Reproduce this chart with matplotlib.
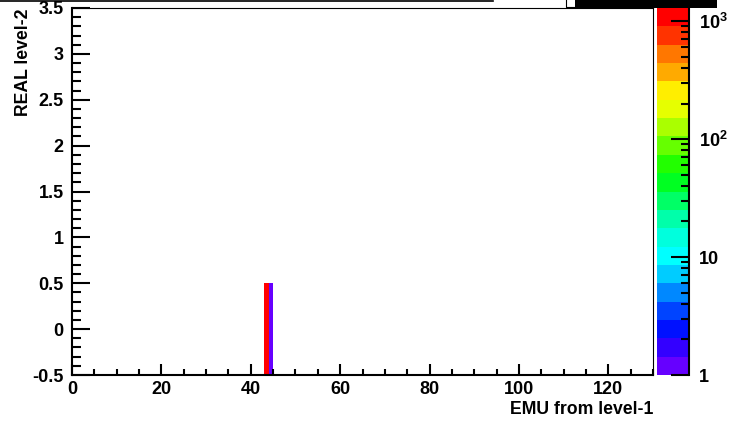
import numpy as np
import matplotlib
matplotlib.use("Agg")
import matplotlib.pyplot as plt
from matplotlib.colors import ListedColormap, LogNorm
from matplotlib.ticker import MultipleLocator, FuncFormatter, LogLocator, FixedLocator
from matplotlib.patches import Rectangle
from matplotlib.lines import Line2D

plt.rcParams['font.family'] = ['Liberation Sans', 'DejaVu Sans']
plt.rcParams['font.weight'] = 'bold'
plt.rcParams['mathtext.fontset'] = 'custom'
plt.rcParams['mathtext.rm'] = 'Liberation Sans:bold'
plt.rcParams['mathtext.bf'] = 'Liberation Sans:bold'

# ---- data ----
x_edges_range = [0, 130]      # EMU from level-1 binning (width 1)
y_edges_range = [-0.5, 3.5]   # REAL level-2 binning (width 1)
bin_x = [43, 44]              # lower x edge of filled bins
bin_y = [0, 0]                # y bin centers of filled bins
counts = [1200, 1]            # bin contents
z_range = [1, 1290]
x_title = "EMU from level-1"
y_title = "REAL level-2"

palette = ['#6600ff', '#3300ff', '#0011ff', '#0044ff', '#0088ff', '#00ccff',
           '#00ffff', '#00ffdd', '#00ffaa', '#00ff66', '#00ff22', '#22ff00',
           '#66ff00', '#aaff00', '#e6ff00', '#ffee00', '#ffaa00', '#ff7700',
           '#ff3300', '#ff0000']

xe = np.arange(x_edges_range[0], x_edges_range[1] + 1, 1)
ye = np.arange(y_edges_range[0], y_edges_range[1] + 0.5, 1)
H = np.zeros((len(ye) - 1, len(xe) - 1))
for bx, by, c in zip(bin_x, bin_y, counts):
    ix = int(np.searchsorted(xe, bx, side='right') - 1)
    iy = int(np.searchsorted(ye, by, side='right') - 1)
    H[iy, ix] += c
Hm = np.ma.masked_where(H <= 0, H)

W, Hpx = 738, 421
fig = plt.figure(figsize=(W / 100, Hpx / 100), dpi=100)
L, R, T, B = 72, 653, 8, 375
ax = fig.add_axes([L / W, 1 - B / Hpx, (R - L) / W, (B - T) / Hpx])
cmap = ListedColormap(palette)
norm = LogNorm(vmin=z_range[0], vmax=z_range[1])
mesh = ax.pcolormesh(xe, ye, Hm, cmap=cmap, norm=norm)
ax.set_xlim(x_edges_range)
ax.set_ylim(y_edges_range)

for s in ['left', 'bottom']:
    ax.spines[s].set_linewidth(1.5)
for s in ['top', 'right']:
    ax.spines[s].set_linewidth(0.8)

LS = 13
ax.xaxis.set_major_locator(MultipleLocator(20))
ax.xaxis.set_minor_locator(MultipleLocator(5))
ax.yaxis.set_major_locator(MultipleLocator(0.5))
ax.yaxis.set_minor_locator(MultipleLocator(0.1))
fmt = FuncFormatter(lambda v, p: ('%g' % round(v, 3)))
ax.xaxis.set_major_formatter(fmt)
ax.yaxis.set_major_formatter(fmt)
ax.tick_params(axis='x', which='both', direction='in', top=False, width=1.5, labelsize=LS, pad=4)
ax.tick_params(axis='x', which='major', length=8)
ax.tick_params(axis='x', which='minor', length=4)
ax.tick_params(axis='y', which='both', direction='in', right=False, width=1.5, labelsize=LS, pad=6)
ax.tick_params(axis='y', which='major', length=13)
ax.tick_params(axis='y', which='minor', length=6.5)

fig.text(R / W, 1 - 410 / Hpx, x_title, ha='right', va='center', fontsize=12.7, fontweight='bold')
fig.text(24 / W, 1 - T / Hpx, y_title, ha='center', va='top', rotation=90, fontsize=12.7, fontweight='bold')

# colour palette axis
cL, cR = 657, 689
cax = fig.add_axes([cL / W, 1 - B / Hpx, (cR - cL) / W, (B - T) / Hpx])
cb = fig.colorbar(mesh, cax=cax)
cb.outline.set_visible(False)
cax.yaxis.set_ticks_position('right')
cax.yaxis.set_major_locator(FixedLocator([1, 10, 100, 1000]))
cax.yaxis.set_minor_locator(LogLocator(base=10, subs=np.arange(2, 10)))
labels = {1: '1', 10: '10', 100: r'$10^{2}$', 1000: r'$10^{3}$'}
cax.yaxis.set_major_formatter(FuncFormatter(lambda v, p: labels.get(int(round(v)), '')))
cax.yaxis.set_minor_formatter(FuncFormatter(lambda v, p: ''))
cax.tick_params(axis='y', which='both', direction='in', width=1.5, labelsize=LS, pad=7)
cax.tick_params(axis='y', which='major', length=13)
cax.tick_params(axis='y', which='minor', length=6)
cax.add_line(Line2D([1, 1], [0, 1], transform=cax.transAxes, color='k', lw=1.5, clip_on=False))

# partial title / stats paves at top edge
fig.add_artist(Line2D([0, 493 / W], [1 - 0.8 / Hpx, 1 - 0.8 / Hpx], transform=fig.transFigure, color='k', lw=1.2))
fig.add_artist(Rectangle((575 / W, 1 - 7.5 / Hpx), (717 - 575) / W, 10 / Hpx,
                         transform=fig.transFigure, facecolor='k', edgecolor='none'))
fig.add_artist(Line2D([566 / W, 566 / W, 575 / W], [1.0, 1 - 7.3 / Hpx, 1 - 7.3 / Hpx],
                      transform=fig.transFigure, color='k', lw=0.8))

fig.savefig('out.png', dpi=100)
